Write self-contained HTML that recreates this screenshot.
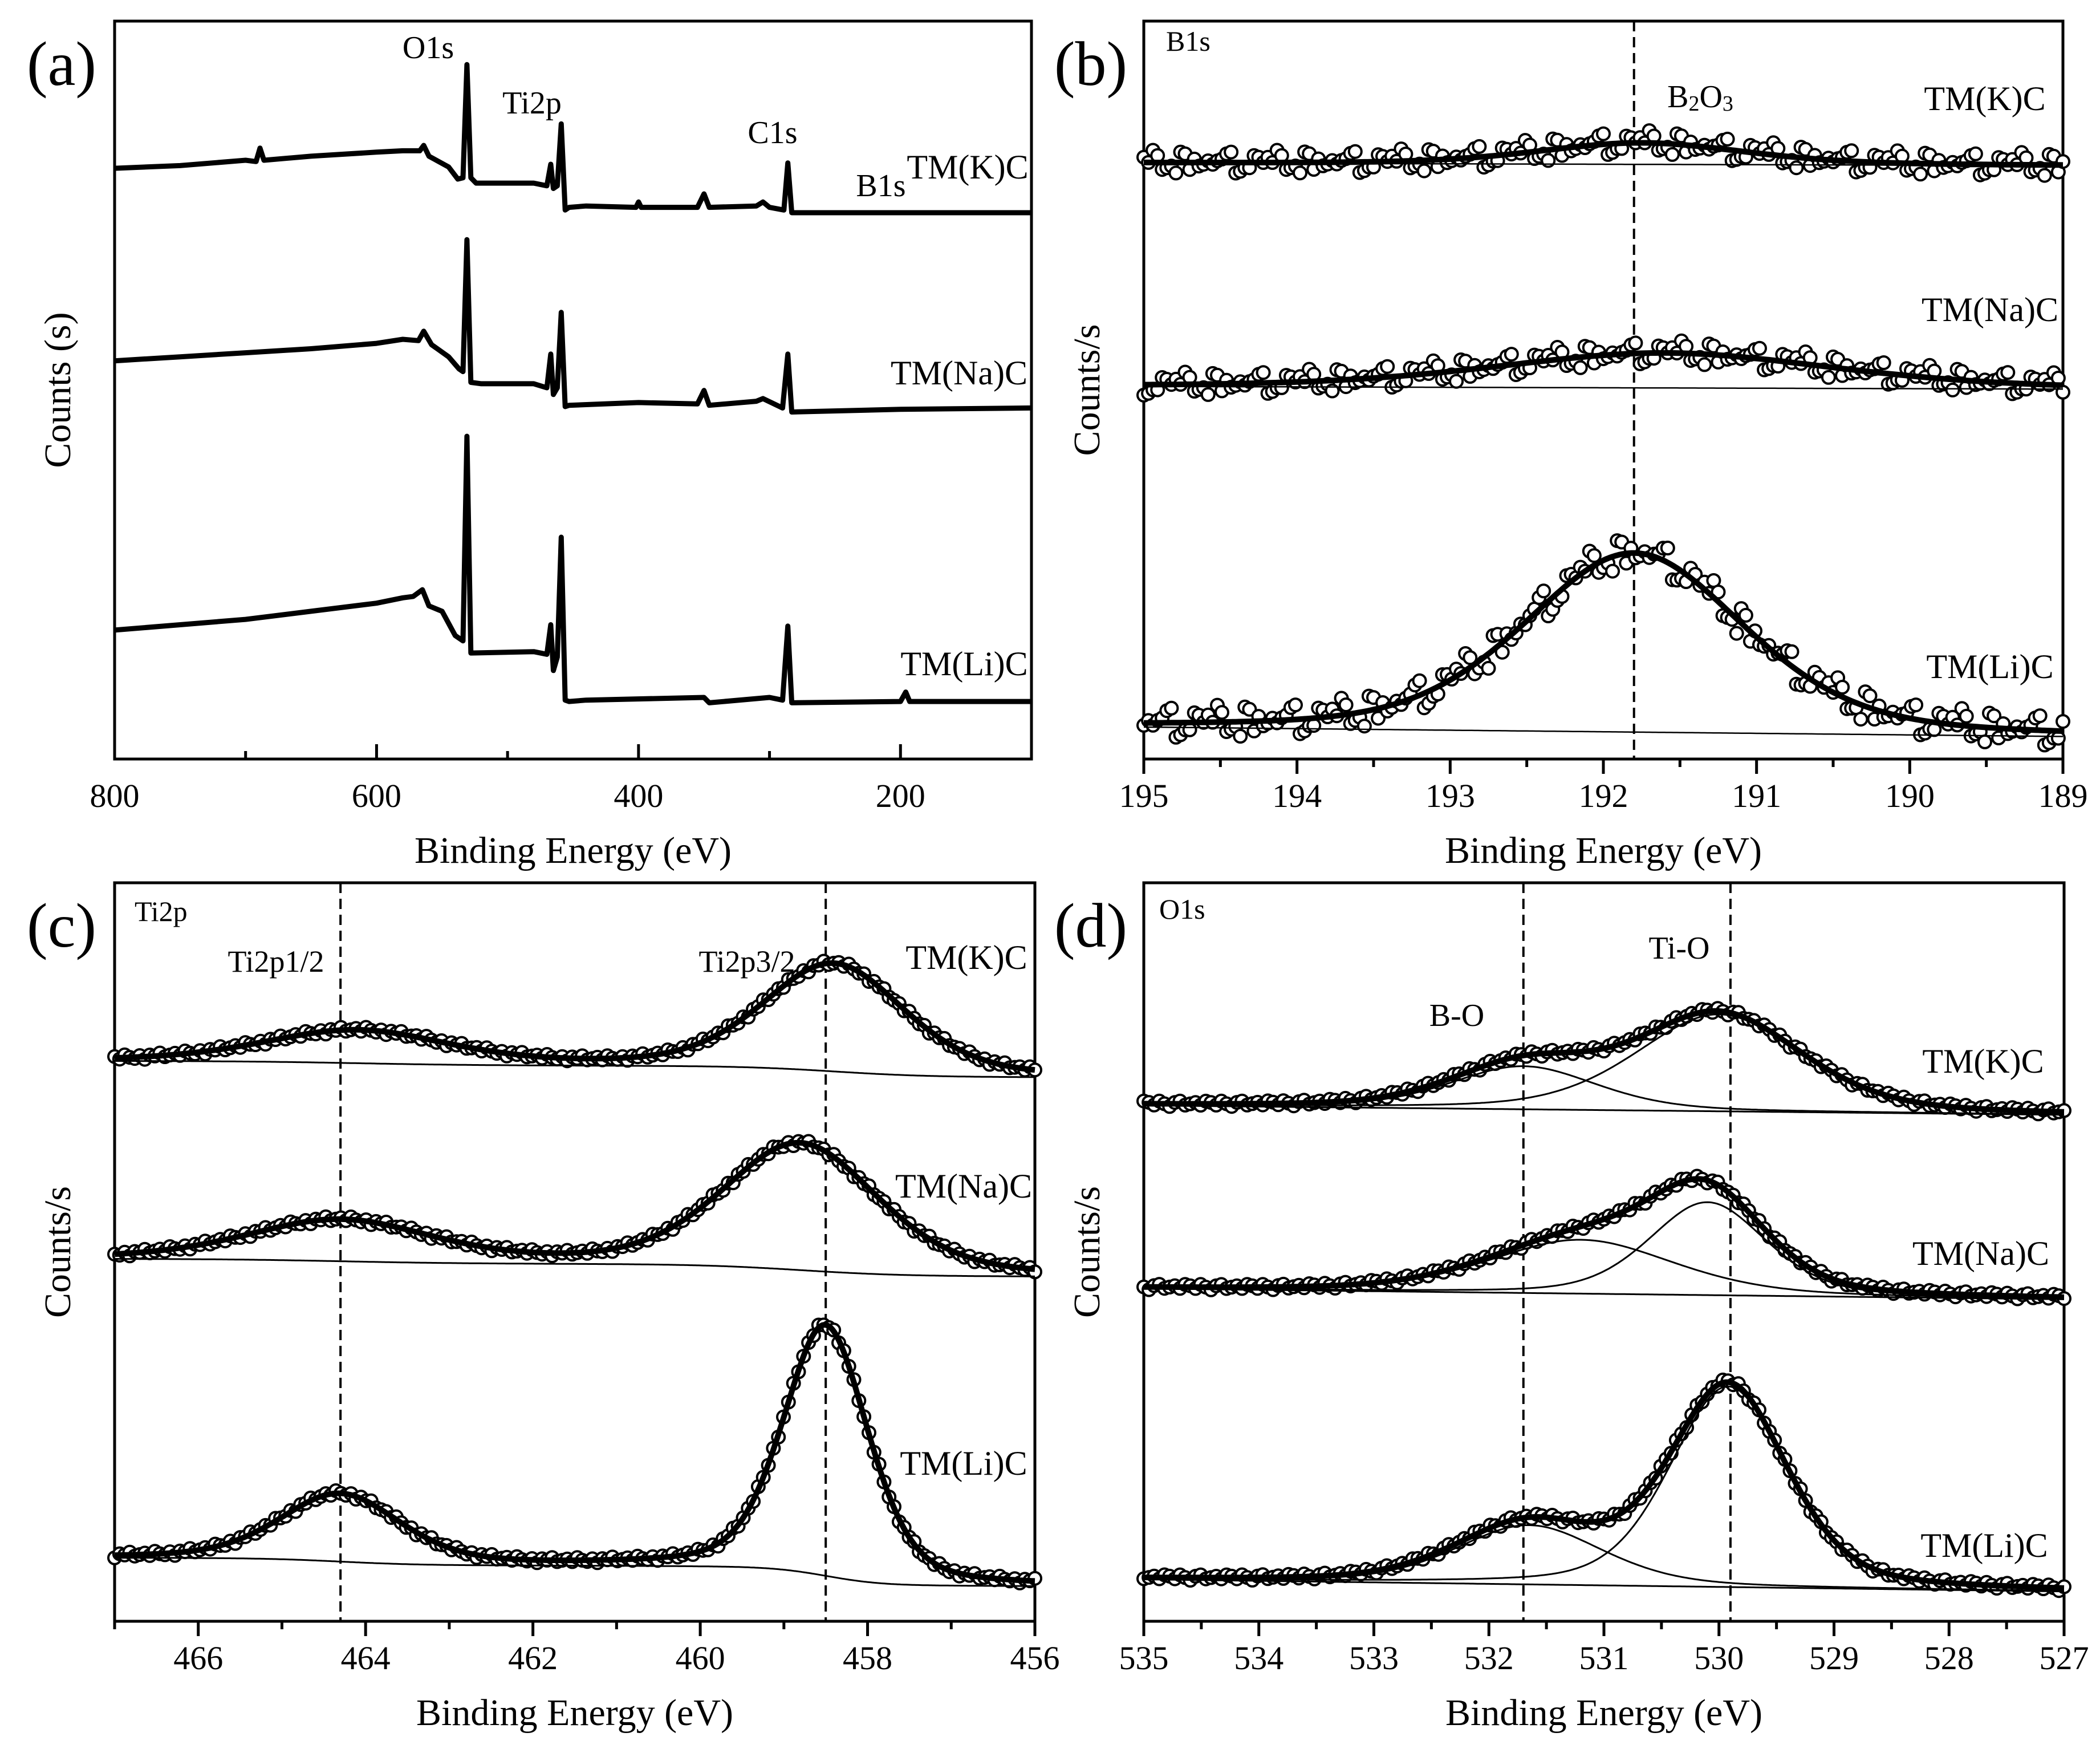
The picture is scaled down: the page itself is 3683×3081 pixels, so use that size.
<!DOCTYPE html>
<html>
<head>
<meta charset="utf-8">
<style>
html,body{margin:0;padding:0;background:#fff;}
svg{display:block;}
text{font-family:"Liberation Serif","Times New Roman",serif;fill:#000;}
</style>
</head>
<body>
<svg id="chart" width="3683" height="3081" viewBox="0 0 3683 3081" xmlns="http://www.w3.org/2000/svg">
<rect x="0" y="0" width="3683" height="3081" fill="#fff"/>
</svg>
<script>
// ---------- Panel (a) survey data (arbitrary counts) ----------
const surveyK_E = [800,750,700,692,689,686,650,600,580,567,564,560,545,538,534,531,528,524,480,470,467,465,462,459,456,453,440,402,400,398,355,350,346,310,305,300,289,286,283,260,200,100];
const surveyK_I = [443,445,449,448,458,449,452,455,456,456,460,452,444,435,436,520,436,432,432,430,446,428,430,476,412,414,415,414,418,414,414,424,414,415,418,414,412,447,410,410,410,410];
const surveyNa_E = [800,750,700,650,600,580,568,564,558,545,537,534,531,528,520,480,470,467,465,462,459,456,453,400,355,350,346,310,305,290,286,283,200,100];
const surveyNa_I = [300,303,306,309,313,316,315,322,312,303,294,292,390,284,283,283,280,305,275,280,336,266,267,269,268,278,267,270,272,265,305,262,264,265];
const surveyLi_E = [800,700,650,600,580,572,565,560,550,540,534,531,528,480,470,467,465,462,459,456,453,440,350,346,300,290,286,283,200,196,193,100];
const surveyLi_I = [100,108,114,120,124,125,130,118,114,96,92,244,83,84,82,104,70,80,169,48,47,48,50,46,50,48,103,46,47,54,47,47];

// ---------- Panel (b) B1s fit parameters ----------
const b1sSamples = ['TM(K)C','TM(Na)C','TM(Li)C'];
const b1sBgLeft = [447,281,28];
const b1sBgRight = [445,279,21];
const b1sCenter = [191.75,191.6,191.8];
const b1sAmp = [16,26,133];
const b1sWidth = [0.8,1.3,0.85];
const b1sNoise = [3,-4,6,-2,1,-6,4,0,-3,5,-1,2,-5,3,7,-2,-4,1,5,-3,0,4,-6,2,-1,6,-3];

// ---------- Panel (c) Ti2p fit parameters ----------
const ti2pBgLeft = [422,275,53];
const ti2pBgRight = [410,262,32];
const ti2pHalfCenter = [464.1,464.3,464.3];
const ti2pHalfAmp = [24,30,50];
const ti2pHalfWidth = [1.3,1.3,0.85];
const ti2p32Center = [458.4,458.8,458.5];
const ti2p32Amp = [80,94,186];
const ti2p32Width = [1.0,1.1,0.6];
const ti2pNoise = [1,-1,2,0,-1,1,-2,1,0,2,-1,0];

// ---------- Panel (d) O1s fit parameters ----------
const o1sBgLeft = [389,253,37];
const o1sBgRight = [382,245,28];
const o1sBOCenter = [531.7,531.2,531.65];
const o1sBOAmp = [32,40,44];
const o1sBOWidth = [0.75,0.95,0.75];
const o1sTiOCenter = [530.0,530.1,529.92];
const o1sTiOAmp = [72,69,149];
const o1sTiOWidth = [0.85,0.6,0.6];
const o1sNoise = [2,1,-1,2,0,-2,1,2,-1,0,1,-1];

const NS = 'http://www.w3.org/2000/svg';
const svg = document.getElementById('chart');
function make(tag, attrs, parent){
  const e = document.createElementNS(NS, tag);
  for (const k in attrs) e.setAttribute(k, attrs[k]);
  (parent || svg).appendChild(e);
  return e;
}
const panels = {
  a:{x0:201,x1:1809,y0:37,y1:1331,L:800,R:100,base:568,inward:true,major:[800,600,400,200],minor:[700,500,300]},
  b:{x0:2006,x1:3618,y0:37,y1:1331,L:195,R:189,base:568,inward:false,major:[195,194,193,192,191,190,189],minor:[194.5,193.5,192.5,191.5,190.5,189.5]},
  c:{x0:201,x1:1815,y0:1548,y1:2843,L:467,R:456,base:1210,inward:false,major:[466,464,462,460,458,456],minor:[467,465,463,461,459,457]},
  d:{x0:2006,x1:3620,y0:1548,y1:2843,L:535,R:527,base:1210,inward:false,major:[535,534,533,532,531,530,529,528,527],minor:[534.5,533.5,532.5,531.5,530.5,529.5,528.5,527.5]}
};
function sx(p,E){ return p.x0 + (E-p.L)/(p.R-p.L)*(p.x1-p.x0); }
function sy(p,v){ return (p.base - v)*2.361; }
function pv(x,c,a,w){ const t=(x-c)/w; return a*(0.35/(1+t*t) + 0.65*Math.exp(-Math.LN2*t*t)); }
function pathFrom(p, E, V){
  let d=''; for(let i=0;i<E.length;i++){ d += (i?'L':'M') + sx(p,E[i]).toFixed(1)+','+sy(p,V[i]).toFixed(1); } return d;
}
function grid(p, step){ const a=[]; const n=Math.round(Math.abs(p.L-p.R)/step); for(let i=0;i<=n;i++) a.push(p.L + (p.R-p.L)*i/n); return a; }

function drawAxes(key, title, ylab, letter){
  const p = panels[key];
  const g = make('g',{});
  
  
  const box = make('rect',{x:p.x0,y:p.y0,width:p.x1-p.x0,height:p.y1-p.y0,fill:'none',stroke:'#000','stroke-width':5},g);
  
  
  const dir = p.inward ? -1 : 1;
  p.major.forEach(E=>{
    const x=sx(p,E);
    const t=make('line',{x1:x,x2:x,y1:p.y1,y2:p.y1+dir*26,stroke:'#000','stroke-width':5},g);
    
    
    const lb=make('text',{x:x,y:p.y1+84,'font-size':58,'text-anchor':'middle'},g);
    lb.textContent = String(E);
    
    
  });
  p.minor.forEach(E=>{
    const x=sx(p,E);
    const t=make('line',{x1:x,x2:x,y1:p.y1,y2:p.y1+dir*14,stroke:'#000','stroke-width':5},g);
    
    
  });
  const xt=make('text',{x:(p.x0+p.x1)/2,y:p.y1+182,'font-size':66,'text-anchor':'middle'},g);
  xt.textContent = title;
  
  
  const yx = p.x0 - 78, yy=(p.y0+p.y1)/2;
  const yt=make('text',{x:yx,y:yy,'font-size':66,'text-anchor':'middle',transform:'rotate(-90 '+yx+' '+yy+')'},g);
  yt.textContent = ylab;
  
  
  const pl=make('text',{x:p.x0-93,y:p.y0+112,'font-size':110,'text-anchor':'middle'},g);
  pl.textContent = letter;
  
  
}
function label(txt, x, y, size, name, anchor){
  const t=make('text',{x:x,y:y,'font-size':size,'text-anchor':anchor||'middle','dominant-baseline':'central'});
  t.textContent = txt;
  
  
  return t;
}
function dashed(key, E){
  const p=panels[key]; const x=sx(p,E);
  const l=make('line',{x1:x,x2:x,y1:p.y0,y2:p.y1,stroke:'#000','stroke-width':4,'stroke-dasharray':'18 10'});
  
  
}
function line(d, w, name){
  const l=make('path',{d:d,fill:'none',stroke:'#000','stroke-width':w,'stroke-linejoin':'round'});
  
  
  return l;
}
function circles(p, E, V, name){
  const g=make('g',{});
  
  
  for(let i=0;i<E.length;i++){
    const c=make('circle',{cx:sx(p,E[i]).toFixed(1),cy:sy(p,V[i]).toFixed(1),r:11,fill:'#fff',stroke:'#000','stroke-width':4},g);
    
    
  }
}

// ----- Panel a -----
drawAxes('a','Binding Energy (eV)','Counts (s)','(a)');
line(pathFrom(panels.a, surveyK_E, surveyK_I), 9, 'survey-tmkc');
line(pathFrom(panels.a, surveyNa_E, surveyNa_I), 9, 'survey-tmnac');
line(pathFrom(panels.a, surveyLi_E, surveyLi_I), 9, 'survey-tmlic');
label('O1s',751,84,56,'peak-label-o1s');
label('Ti2p',933,181,56,'peak-label-ti2p');
label('C1s',1355,233,56,'peak-label-c1s');
label('B1s',1545,326,56,'peak-label-b1s');
label('TM(K)C',1697,293,60,'sample-label-tmkc');
label('TM(Na)C',1682,654,60,'sample-label-tmnac');
label('TM(Li)C',1691,1164,60,'sample-label-tmlic');

// ----- Panel b -----
drawAxes('b','Binding Energy (eV)','Counts/s','(b)');
dashed('b',191.8);
(function(){
  const p=panels.b; const Ef=grid(p,0.02); const Ed=grid(p,0.03);
  for(let s=0;s<3;s++){
    const bg=E=>b1sBgLeft[s]+(b1sBgRight[s]-b1sBgLeft[s])*(p.L-E)/(p.L-p.R);
    const fit=E=>bg(E)+pv(E,b1sCenter[s],b1sAmp[s],b1sWidth[s]);
    circles(p, Ed, Ed.map((E,i)=>fit(E)+b1sNoise[(i*7+s*5)%b1sNoise.length]*(s==2?1.8:1.3)), 'b1s-data-'+s);
    line(pathFrom(p,Ef,Ef.map(bg)),2.5,'b1s-background-'+s);
    line(pathFrom(p,Ef,Ef.map(fit)),10,'b1s-fit-'+s);
  }
})();
label('B1s',2045,72,50,'region-label-b1s','start');
const b2o3=label('',2982,170,56,'b2o3-label');
b2o3.innerHTML='B<tspan font-size="38" dy="12">2</tspan><tspan dy="-12">O</tspan><tspan font-size="38" dy="12">3</tspan>';
label('TM(K)C',3481,173,60,'sample-label-tmkc-b');
label('TM(Na)C',3490,543,60,'sample-label-tmnac-b');
label('TM(Li)C',3490,1169,60,'sample-label-tmlic-b');

// ----- Panel c -----
drawAxes('c','Binding Energy (eV)','Counts/s','(c)');
dashed('c',464.3); dashed('c',458.5);
(function(){
  const p=panels.c; const Ef=grid(p,0.02); const Ed=grid(p,0.06);
  for(let s=0;s<3;s++){
    const pk=E=>pv(E,ti2pHalfCenter[s],ti2pHalfAmp[s],ti2pHalfWidth[s])+pv(E,ti2p32Center[s],ti2p32Amp[s],ti2p32Width[s]);
    const cum=[]; let acc=0;
    for(let i=Ef.length-1;i>=0;i--){ acc+=pk(Ef[i]); cum[i]=acc; }
    const tot=acc;
    const bgArr=Ef.map((E,i)=>ti2pBgRight[s]+(ti2pBgLeft[s]-ti2pBgRight[s])*cum[i]/tot);
    const bg=E=>{ const i=Math.min(Ef.length-1,Math.max(0,Math.round((p.L-E)/(p.L-p.R)*(Ef.length-1)))); return bgArr[i]; };
    const fit=E=>bg(E)+pk(E);
    circles(p, Ed, Ed.map((E,i)=>fit(E)+ti2pNoise[(i+s*3)%ti2pNoise.length]), 'ti2p-data-'+s);
    line(pathFrom(p,Ef,bgArr),3,'ti2p-background-'+s);
    line(pathFrom(p,Ef,Ef.map(fit)),10,'ti2p-fit-'+s);
  }
})();
label('Ti2p',236,1598,50,'region-label-ti2p','start');
label('Ti2p1/2',484,1686,54,'peak-label-ti2p12');
label('Ti2p3/2',1310,1686,54,'peak-label-ti2p32');
label('TM(K)C',1695,1679,60,'sample-label-tmkc-c');
label('TM(Na)C',1690,2080,60,'sample-label-tmnac-c');
label('TM(Li)C',1690,2566,60,'sample-label-tmlic-c');

// ----- Panel d -----
drawAxes('d','Binding Energy (eV)','Counts/s','(d)');
dashed('d',531.7); dashed('d',529.9);
(function(){
  const p=panels.d; const Ef=grid(p,0.02); const Ed=grid(p,0.045);
  for(let s=0;s<3;s++){
    const bg=E=>o1sBgLeft[s]+(o1sBgRight[s]-o1sBgLeft[s])*(p.L-E)/(p.L-p.R);
    const bo=E=>pv(E,o1sBOCenter[s],o1sBOAmp[s],o1sBOWidth[s]);
    const tio=E=>pv(E,o1sTiOCenter[s],o1sTiOAmp[s],o1sTiOWidth[s]);
    const fit=E=>bg(E)+bo(E)+tio(E);
    circles(p, Ed, Ed.map((E,i)=>fit(E)+o1sNoise[(i+s*4)%o1sNoise.length]), 'o1s-data-'+s);
    line(pathFrom(p,Ef,Ef.map(bg)),3,'o1s-background-'+s);
    line(pathFrom(p,Ef,Ef.map(E=>bg(E)+bo(E))),3,'o1s-bo-component-'+s);
    line(pathFrom(p,Ef,Ef.map(E=>bg(E)+tio(E))),3,'o1s-tio-component-'+s);
    line(pathFrom(p,Ef,Ef.map(fit)),10,'o1s-fit-'+s);
  }
})();
label('O1s',2033,1594,50,'region-label-o1s','start');
label('Ti-O',2945,1663,56,'peak-label-tio');
label('B-O',2555,1781,56,'peak-label-bo');
label('TM(K)C',3478,1861,60,'sample-label-tmkc-d');
label('TM(Na)C',3474,2198,60,'sample-label-tmnac-d');
label('TM(Li)C',3480,2710,60,'sample-label-tmlic-d');
</script>
</body>
</html>
